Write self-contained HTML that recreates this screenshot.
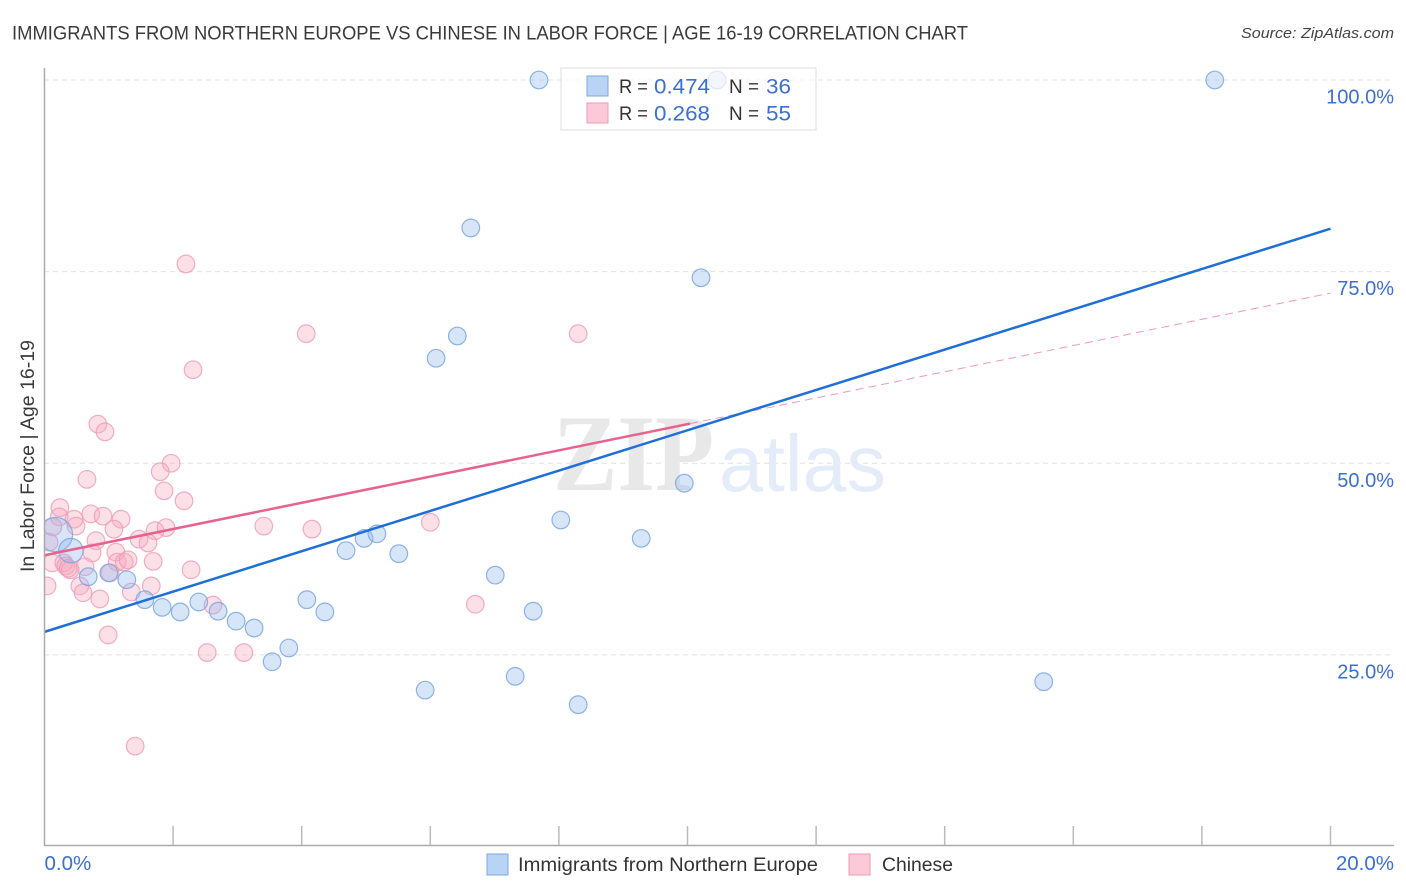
<!DOCTYPE html>
<html>
<head>
<meta charset="utf-8">
<title>Immigrants from Northern Europe vs Chinese in Labor Force</title>
<style>
html,body{margin:0;padding:0;background:#fff;width:1406px;height:892px;overflow:hidden}
svg{display:block}
text{font-family:"Liberation Sans",sans-serif}
</style>
</head>
<body>
<svg id="chart" width="1406" height="892" viewBox="0 0 1406 892" xmlns="http://www.w3.org/2000/svg">
  <defs><clipPath id="plot-clip"><rect x="45" y="60" width="1349" height="786"/></clipPath></defs>
  <text x="12" y="39.500" font-size="19" fill="#3a3a3a" textLength="956" lengthAdjust="spacingAndGlyphs">IMMIGRANTS FROM NORTHERN EUROPE VS CHINESE IN LABOR FORCE | AGE 16-19 CORRELATION CHART</text>
  <text x="1241" y="38" font-size="15" font-style="italic" fill="#444" textLength="153" lengthAdjust="spacingAndGlyphs">Source: ZipAtlas.com</text>
  <g id="grid"></g>
  <text x="553" y="490" style="font-family:'Liberation Serif',serif" font-size="109" font-weight="bold" fill="#e8e8e8" textLength="161" lengthAdjust="spacingAndGlyphs">ZIP</text>
  <text x="719" y="491" font-size="80" fill="#e4ecf9" textLength="167" lengthAdjust="spacingAndGlyphs">atlas</text>
  <g id="points" clip-path="url(#plot-clip)"></g>
  <g id="trends"></g>
  <g id="axes"></g>
  <text transform="translate(34,456) rotate(-90)" font-size="19" fill="#3a3a3a" text-anchor="middle" textLength="232" lengthAdjust="spacingAndGlyphs">In Labor Force | Age 16-19</text>

  <g>
    <rect x="561" y="68" width="255" height="62" fill="#fff" fill-opacity="0.7" stroke="#ddd" stroke-width="1"/>
    <rect x="587" y="76" width="21" height="20" fill="#b9d3f5" stroke="#7ba7e0"/>
    <rect x="587" y="103" width="21" height="20" fill="#fcc9d9" stroke="#ef9ab5"/>
    <text x="619" y="93" font-size="19.500" fill="#333" textLength="29" lengthAdjust="spacingAndGlyphs">R =</text>
    <text x="654" y="93.500" font-size="21" fill="#3b6fd4" textLength="56" lengthAdjust="spacingAndGlyphs">0.474</text>
    <text x="729" y="93" font-size="19.500" fill="#333" textLength="30" lengthAdjust="spacingAndGlyphs">N =</text>
    <text x="766" y="93.500" font-size="21" fill="#3b6fd4" textLength="25" lengthAdjust="spacingAndGlyphs">36</text>
    <text x="619" y="120" font-size="19.500" fill="#333" textLength="29" lengthAdjust="spacingAndGlyphs">R =</text>
    <text x="654" y="120.500" font-size="21" fill="#3b6fd4" textLength="56" lengthAdjust="spacingAndGlyphs">0.268</text>
    <text x="729" y="120" font-size="19.500" fill="#333" textLength="30" lengthAdjust="spacingAndGlyphs">N =</text>
    <text x="766" y="120.500" font-size="21" fill="#3b6fd4" textLength="25" lengthAdjust="spacingAndGlyphs">55</text>
  </g>

  <g>
    <rect x="487" y="854" width="21" height="21" fill="#b9d3f5" stroke="#7ba7e0"/>
    <text x="518" y="871" font-size="19.500" fill="#333" textLength="300" lengthAdjust="spacingAndGlyphs">Immigrants from Northern Europe</text>
    <rect x="849" y="854" width="21" height="21" fill="#fcc9d9" stroke="#ef9ab5"/>
    <text x="882" y="871" font-size="19.500" fill="#333" textLength="71" lengthAdjust="spacingAndGlyphs">Chinese</text>
  </g>
</svg>
<script>
const yTickValues = [25, 50, 75, 100];
const yTickLabels = ["25.0%", "50.0%", "75.0%", "100.0%"];
const xTickValues = [2, 4, 6, 8, 10, 12, 14, 16, 18, 20];
const xEndValues = [0, 20];
const xEndLabels = ["0.0%", "20.0%"];

const blueX = [7.69,10.46,18.20,6.63,10.21,6.42,6.09,9.95,8.03,9.28,4.69,4.97,5.17,5.51,7.01,4.08,4.36,7.60,3.80,3.54,5.92,7.32,8.30,15.54,0.68,1.00,1.28,1.56,1.83,2.11,2.40,2.70,2.98,3.26,0.17,0.41];
const blueY = [100,100,100,80.7,74.2,66.6,63.7,47.4,42.6,40.2,38.6,40.2,40.8,38.2,35.4,32.2,30.6,30.7,25.9,24.1,20.4,22.2,18.5,21.5,35.2,35.7,34.8,32.2,31.2,30.6,31.9,30.7,29.4,28.5,40.7,38.6];
const blueWeight = [1,1,1,1,1,1,1,1,1,1,1,1,1,1,1,1,1,1,1,1,1,1,1,1,1,1,1,1,1,1,1,1,1,1,3.8,1.93];

const pinkX = [2.20,4.07,8.30,2.31,0.83,0.94,1.97,1.80,0.66,1.86,2.17,0.24,0.23,0.46,0.49,0.72,0.91,1.19,1.08,1.72,1.89,3.41,4.16,6.00,1.47,1.61,0.80,0.74,1.11,0.13,0.07,0.12,0.30,0.33,0.37,0.40,0.63,1.13,1.24,1.30,1.69,2.28,1.02,1.66,1.35,0.55,0.60,0.04,0.86,2.62,6.70,0.99,2.53,3.10,1.41];
const pinkY = [76.0,66.9,66.9,62.2,55.1,54.1,50.0,48.9,47.9,46.4,45.1,44.2,43.0,42.7,41.8,43.4,43.1,42.7,41.4,41.2,41.6,41.8,41.4,42.3,40.1,39.6,39.9,38.3,38.4,41.7,39.7,37.0,37.0,36.6,36.3,36.1,36.5,37.1,37.1,37.4,37.2,36.1,35.7,34.0,33.2,34.0,33.1,34.0,32.3,31.5,31.6,27.6,25.3,25.3,13.1];

const blueTrend = [28.0, 80.6];
const pinkTrend = [38.0, 72.2];
const pinkSolidEnd = 10.04;

const NS = "http://www.w3.org/2000/svg";
const xScale = v => 44.5 + v * 64.3;
const yScale = v => 846.5 - v * 7.665;
const lerp = (ends, x) => ends[0] + (ends[1] - ends[0]) * x / 20;

function make(parent, tag, attrs) {
  const el = document.createElementNS(NS, tag);
  for (const k in attrs) el.setAttribute(k, attrs[k]);
  parent.appendChild(el);
  return el;
}

const grid = document.getElementById("grid");
const axes = document.getElementById("axes");
const points = document.getElementById("points");
const trends = document.getElementById("trends");

yTickValues.forEach((v, i) => {
  const line = make(grid, "line", {x1: 44, x2: 1394, y1: yScale(v), y2: yScale(v), stroke: "#e0e0e0", "stroke-width": 1, "stroke-dasharray": "5 4"});
  
  
  const label = make(axes, "text", {x: 1394, y: yScale(v) + 23.500, "font-size": 20, fill: "#3b6fd4", "text-anchor": "end"});
  label.textContent = yTickLabels[i];
  
  
});

const yAxis = make(axes, "line", {x1: 44.5, x2: 44.5, y1: 68, y2: 846, stroke: "#aaa", "stroke-width": 1.5});


const xAxis = make(axes, "line", {x1: 44, x2: 1394, y1: 845.5, y2: 845.5, stroke: "#aaa", "stroke-width": 1.5});



xTickValues.forEach(v => {
  const tick = make(axes, "line", {x1: xScale(v), x2: xScale(v), y1: 826, y2: 845, stroke: "#bbb", "stroke-width": 1.5});
  
  
});

xEndValues.forEach((v, i) => {
  const label = make(axes, "text", {x: i === 0 ? xScale(v) : 1394, y: 870, "font-size": 20.500, fill: "#3b6fd4", "text-anchor": i === 0 ? "start" : "end"});
  label.textContent = xEndLabels[i];
  
  
});

pinkX.forEach((x, i) => {
  const c = make(points, "circle", {cx: xScale(x), cy: yScale(pinkY[i]), r: 8.8, fill: "#f7a8c0", "fill-opacity": 0.36, stroke: "#ef9ab5", "stroke-opacity": 0.8, "stroke-width": 1.2});
  
  
});

blueX.forEach((x, i) => {
  const c = make(points, "circle", {cx: xScale(x), cy: yScale(blueY[i]), r: 8.8 * Math.sqrt(blueWeight[i]), fill: "#8fb8ee", "fill-opacity": 0.36, stroke: "#7ba7e0", "stroke-opacity": 0.85, "stroke-width": 1.2});
  
  
});

const pinkDash = make(trends, "line", {x1: xScale(pinkSolidEnd), y1: yScale(lerp(pinkTrend, pinkSolidEnd)), x2: xScale(20), y2: yScale(pinkTrend[1]), stroke: "#e8819f", "stroke-width": 1, "stroke-dasharray": "8 5", "stroke-opacity": 0.8});


const pinkSolid = make(trends, "line", {x1: xScale(0), y1: yScale(pinkTrend[0]), x2: xScale(pinkSolidEnd), y2: yScale(lerp(pinkTrend, pinkSolidEnd)), stroke: "#e8628f", "stroke-width": 2.5});


const blueLine = make(trends, "line", {x1: xScale(0), y1: yScale(blueTrend[0]), x2: xScale(20), y2: yScale(blueTrend[1]), stroke: "#1f6fd8", "stroke-width": 2.5});


</script>
</body>
</html>
